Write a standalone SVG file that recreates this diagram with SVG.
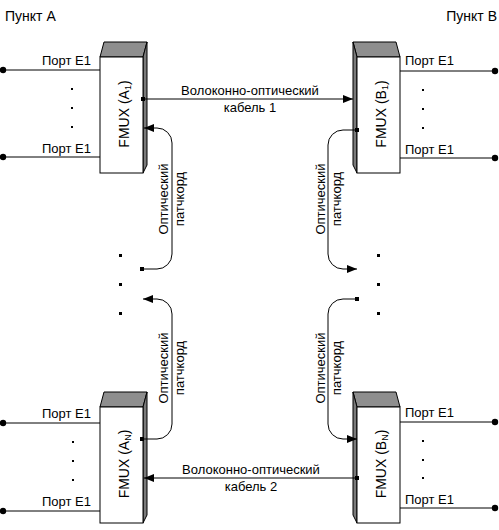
<svg xmlns="http://www.w3.org/2000/svg" width="499" height="530" viewBox="0 0 499 530">
<style>
text{font-family:"Liberation Sans",Arial,sans-serif;font-size:13px;fill:#000}
.title{font-size:14px}
.fm{font-size:14px}
.front{fill:#fff;stroke:#000;stroke-width:1}
.top{fill:#8e8e8e;stroke:#000;stroke-width:1}
.side{fill:#7a7a7a;stroke:#000;stroke-width:1}
.ln{fill:none;stroke:#000;stroke-width:1}
.dot{fill:#000}
</style>
<defs>
<marker id="arr" markerUnits="userSpaceOnUse" markerWidth="10" markerHeight="8" refX="10" refY="4" orient="auto"><path d="M0,0 L10,4 L0,8 z" fill="#000"/></marker>
<marker id="sq" markerUnits="userSpaceOnUse" markerWidth="4" markerHeight="4" refX="2" refY="2" orient="auto"><rect width="4" height="4" fill="#000"/></marker>
<marker id="circ" markerUnits="userSpaceOnUse" markerWidth="8" markerHeight="8" refX="4" refY="4"><circle cx="4" cy="4" r="3.2" fill="#000"/></marker>
</defs>

<text class="title" x="5" y="21">Пункт A</text>
<text class="title" x="497" y="21" text-anchor="end">Пункт B</text>

<g id="fmux-a1">
<polygon class="top" points="100,57 104,42 147,42 143,57"/>
<polygon class="side" points="143,57 147,42 147,165 143,173"/>
<rect class="front" x="100" y="57" width="43" height="116"/>
<text class="fm" transform="translate(129,114) rotate(-90)" text-anchor="middle">FMUX (A<tspan font-size="9" dy="2">1</tspan><tspan dy="-2">)</tspan></text>
</g>
<g id="fmux-b1">
<polygon class="top" points="357,57 353,42 396,42 400,57"/>
<polygon class="side" points="357,57 353,42 353,165 357,173"/>
<rect class="front" x="357" y="57" width="43" height="116"/>
<text class="fm" transform="translate(386,114) rotate(-90)" text-anchor="middle">FMUX (B<tspan font-size="9" dy="2">1</tspan><tspan dy="-2">)</tspan></text>
</g>
<g id="fmux-an">
<polygon class="top" points="100,407 104,392 147,392 143,407"/>
<polygon class="side" points="143,407 147,392 147,515 143,523"/>
<rect class="front" x="100" y="407" width="43" height="116"/>
<text class="fm" transform="translate(129,464) rotate(-90)" text-anchor="middle">FMUX (A<tspan font-size="9" dy="2">N</tspan><tspan dy="-2">)</tspan></text>
</g>
<g id="fmux-bn">
<polygon class="top" points="357,407 353,392 396,392 400,407"/>
<polygon class="side" points="357,407 353,392 353,515 357,523"/>
<rect class="front" x="357" y="407" width="43" height="116"/>
<text class="fm" transform="translate(386,464) rotate(-90)" text-anchor="middle">FMUX (B<tspan font-size="9" dy="2">N</tspan><tspan dy="-2">)</tspan></text>
</g>

<g id="connectors">
<path class="ln" d="M100,70 H3" marker-end="url(#circ)"/>
<path class="ln" d="M100,157 H3" marker-end="url(#circ)"/>
<path class="ln" d="M400,71 H495" marker-end="url(#circ)"/>
<path class="ln" d="M400,158 H495" marker-end="url(#circ)"/>
<path class="ln" d="M100,423 H3" marker-end="url(#circ)"/>
<path class="ln" d="M100,511 H3" marker-end="url(#circ)"/>
<path class="ln" d="M400,422 H495" marker-end="url(#circ)"/>
<path class="ln" d="M400,508 H495" marker-end="url(#circ)"/>
<path class="ln" d="M143,99 H353" marker-start="url(#sq)" marker-end="url(#arr)"/>
<path class="ln" d="M357,478 H144" marker-start="url(#sq)" marker-end="url(#arr)"/>
<path class="ln" d="M142,269 H157 A15,15 0 0 0 172,254 V143 A15,15 0 0 0 157,128 H144" marker-start="url(#sq)" marker-end="url(#arr)"/>
<path class="ln" d="M357,130 H343 A15,15 0 0 0 328,145 V254 A15,15 0 0 0 343,269 H357" marker-start="url(#sq)" marker-end="url(#arr)"/>
<path class="ln" d="M142,439 H157 A15,15 0 0 0 172,424 V314 A15,15 0 0 0 157,299 H143" marker-start="url(#sq)" marker-end="url(#arr)"/>
<path class="ln" d="M357,299 H343 A15,15 0 0 0 328,314 V424 A15,15 0 0 0 343,439 H357" marker-start="url(#sq)" marker-end="url(#arr)"/>
</g>

<g id="labels">
<text x="42" y="65">Порт E1</text>
<text x="42" y="153">Порт E1</text>
<text x="405" y="65">Порт E1</text>
<text x="405" y="154">Порт E1</text>
<text x="42" y="418">Порт E1</text>
<text x="42" y="506">Порт E1</text>
<text x="405" y="417">Порт E1</text>
<text x="405" y="504">Порт E1</text>
<text x="250" y="95" text-anchor="middle">Волоконно-оптический</text>
<text x="250" y="112" text-anchor="middle">кабель 1</text>
<text x="251" y="474" text-anchor="middle">Волоконно-оптический</text>
<text x="251" y="491" text-anchor="middle">кабель 2</text>
<text transform="translate(168,199) rotate(-90)" text-anchor="middle">Оптический</text>
<text transform="translate(184,199) rotate(-90)" text-anchor="middle">патчкорд</text>
<text transform="translate(325,199) rotate(-90)" text-anchor="middle">Оптический</text>
<text transform="translate(341,199) rotate(-90)" text-anchor="middle">патчкорд</text>
<text transform="translate(168,368) rotate(-90)" text-anchor="middle">Оптический</text>
<text transform="translate(184,368) rotate(-90)" text-anchor="middle">патчкорд</text>
<text transform="translate(325,368) rotate(-90)" text-anchor="middle">Оптический</text>
<text transform="translate(341,368) rotate(-90)" text-anchor="middle">патчкорд</text>
</g>

<g id="ellipses" class="dot">
<rect x="71" y="88" width="2" height="2"/><rect x="71" y="107" width="2" height="2"/><rect x="71" y="126" width="2" height="2"/>
<rect x="422" y="89" width="2" height="2"/><rect x="422" y="108" width="2" height="2"/><rect x="422" y="127" width="2" height="2"/>
<rect x="72" y="441" width="2" height="2"/><rect x="72" y="460" width="2" height="2"/><rect x="72" y="479" width="2" height="2"/>
<rect x="422" y="440" width="2" height="2"/><rect x="422" y="459" width="2" height="2"/><rect x="422" y="477" width="2" height="2"/>
<rect x="119" y="254" width="3" height="3"/><rect x="119" y="283" width="3" height="3"/><rect x="119" y="312" width="3" height="3"/>
<rect x="377" y="254" width="3" height="3"/><rect x="377" y="283" width="3" height="3"/><rect x="377" y="312" width="3" height="3"/>
</g>
</svg>
